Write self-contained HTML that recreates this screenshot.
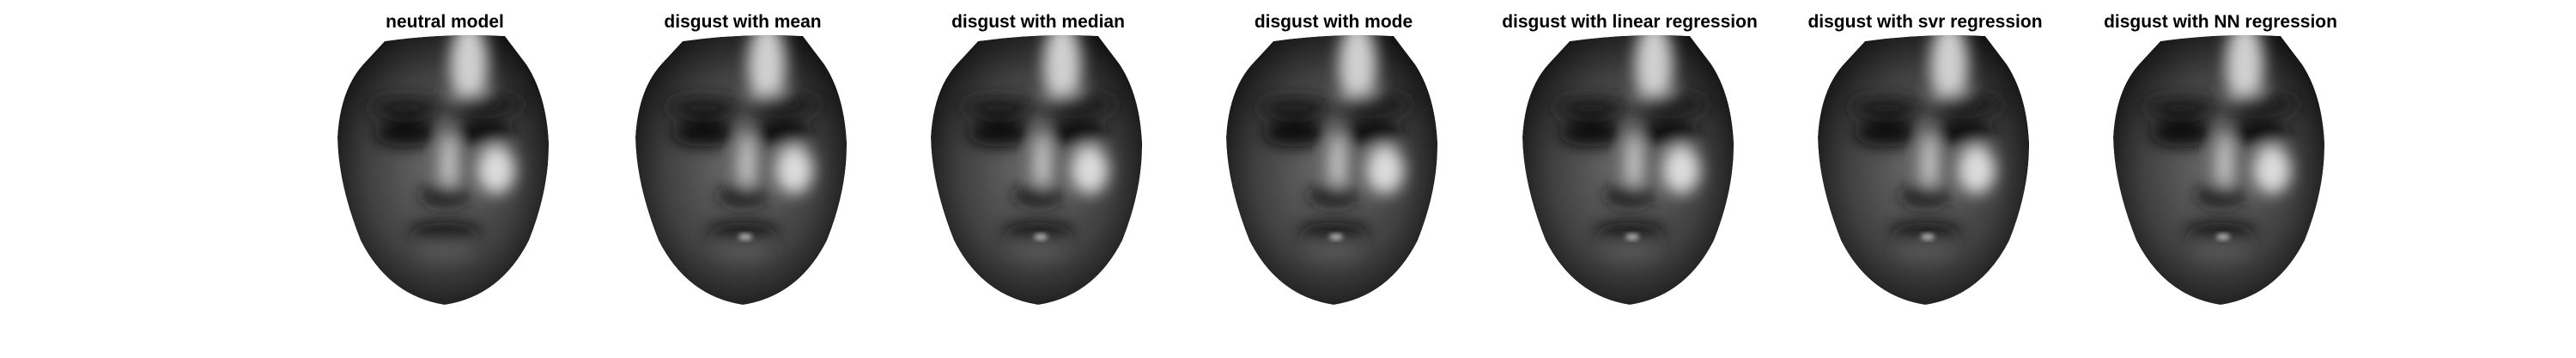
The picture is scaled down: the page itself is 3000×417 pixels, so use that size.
<!DOCTYPE html>
<html><head><meta charset="utf-8"><style>
html,body{margin:0;padding:0;background:#fff;}
svg{display:block;}
text{font-family:"Liberation Sans",Arial,sans-serif;font-weight:bold;font-size:21px;fill:#000;}
</style></head><body>
<svg id="fig" width="3000" height="417" viewBox="0 0 3000 417" xmlns="http://www.w3.org/2000/svg">
<defs>
<radialGradient id="skin" cx="50%" cy="50%" r="60%">
<stop offset="0" stop-color="#6e6e6e"/><stop offset="0.6" stop-color="#404040"/><stop offset="1" stop-color="#0c0c0c"/>
</radialGradient>
<filter id="blur" x="-30%" y="-30%" width="160%" height="160%"><feGaussianBlur stdDeviation="9"/></filter>
<filter id="blur2" x="-30%" y="-30%" width="160%" height="160%"><feGaussianBlur stdDeviation="3"/></filter>
</defs>
</svg>
<script>
const titles=["neutral model","disgust with mean","disgust with median","disgust with mode","disgust with linear regression","disgust with svr regression","disgust with NN regression"];
const centers=[518,865,1209,1553,1898,2242,2586];
const svg=document.getElementById('fig');
const NS='http://www.w3.org/2000/svg';
const facePath="M -70 48 Q 0 38 70 42 L 95 75 Q 118 110 121 165 Q 122 220 98 280 Q 65 345 0 355 Q -65 345 -98 280 Q -124 215 -125 160 Q -122 105 -95 75 Z";
function mk(tag,attrs,parent){const e=document.createElementNS(NS,tag);for(const k in attrs)e.setAttribute(k,attrs[k]);parent.appendChild(e);return e;}
const defs=svg.querySelector('defs');
titles.forEach((t,i)=>{
  const cx=centers[i];
  const tx=mk('text',{x:cx,y:32,'text-anchor':'middle'},svg);
  tx.textContent=t;
  
  
  const cp=mk('clipPath',{id:'clip'+i},defs);
  mk('path',{d:facePath},cp);
  const g=mk('g',{transform:`translate(${cx},0)`,'clip-path':`url(#clip${i})`},svg);
  
  
  mk('path',{d:facePath,fill:'url(#skin)'},g);
  const f=mk('g',{filter:'url(#blur)'},g);
  mk('ellipse',{cx:28,cy:75,rx:22,ry:50,fill:'#d0d0d0'},f);
  mk('ellipse',{cx:-45,cy:125,rx:44,ry:13,fill:'#1a1a1a'},f);
  mk('ellipse',{cx:48,cy:122,rx:44,ry:13,fill:'#1a1a1a'},f);
  mk('ellipse',{cx:-45,cy:155,rx:38,ry:16,fill:'#0a0a0a'},f);
  mk('ellipse',{cx:45,cy:155,rx:36,ry:16,fill:'#0a0a0a'},f);
  mk('ellipse',{cx:5,cy:190,rx:9,ry:36,fill:'#cfcfcf'},f);
  mk('ellipse',{cx:60,cy:198,rx:22,ry:28,fill:'#dcdcdc'},f);
  mk('ellipse',{cx:0,cy:228,rx:30,ry:12,fill:'#151515'},f);
  mk('ellipse',{cx:0,cy:268,rx:42,ry:9,fill:'#111'},f);
  mk('ellipse',{cx:0,cy:292,rx:32,ry:8,fill:'#5a5a5a'},f);
  if(i>0){mk('ellipse',{cx:3,cy:276,rx:8,ry:4,fill:'#aaa',filter:'url(#blur2)'},g);}
});
</script>
</body></html>
